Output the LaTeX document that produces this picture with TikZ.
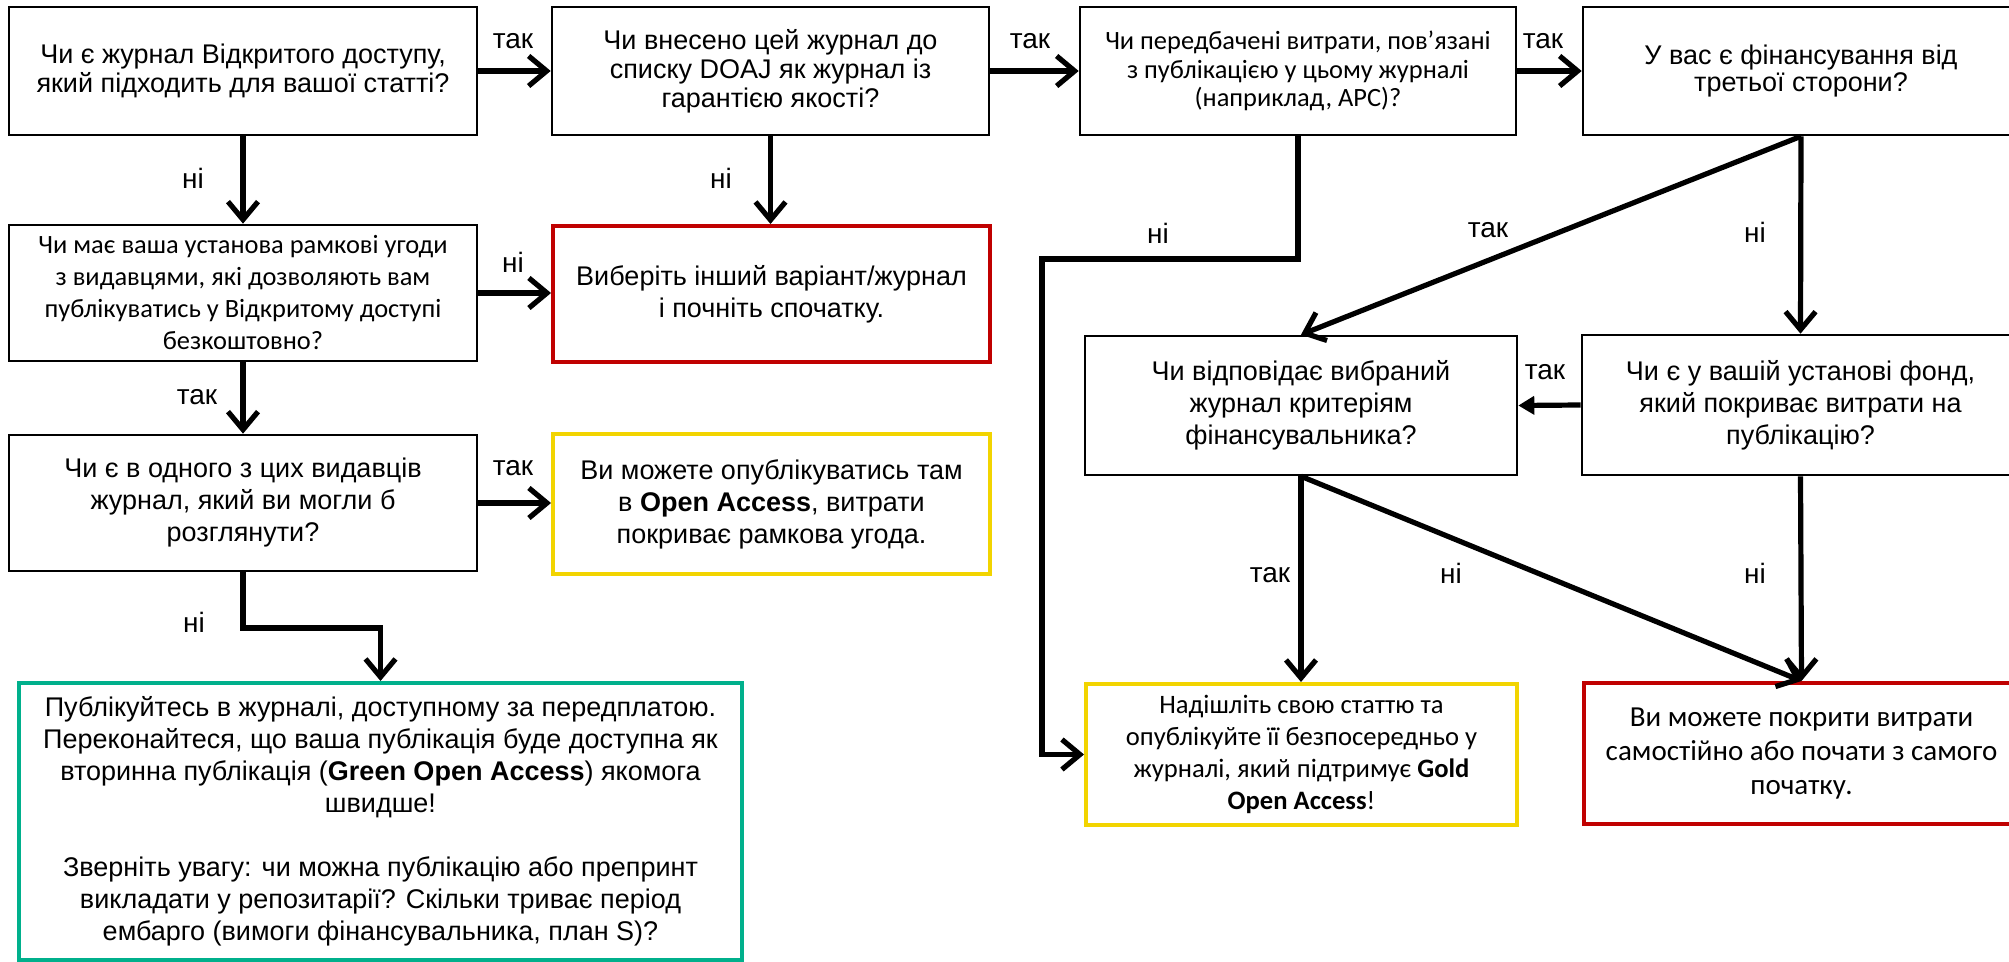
\documentclass[tikz,border=0pt]{standalone}
\usepackage{fontspec}
\setmainfont{Liberation Sans}
\newfontfamily\calib{Carlito}
\usetikzlibrary{arrows.meta}
\definecolor{bred}{RGB}{192,0,0}
\definecolor{byel}{RGB}{242,212,0}
\definecolor{bgreen}{RGB}{0,176,140}
\begin{document}
\begin{tikzpicture}[x=0.5pt,y=-0.5pt,
  box/.style={draw=black,line width=1.3pt,inner sep=0pt,align=center},
  rbox/.style={draw=bred,line width=2pt,inner sep=0pt,align=center},
  ybox/.style={draw=byel,line width=2pt,inner sep=0pt,align=center},
  gbox/.style={draw=bgreen,line width=2pt,inner sep=0pt,align=center},
  arr/.style={line width=2.6pt,-{Straight Barb[length=9pt,width=15pt]}},
  farr/.style={line width=2.6pt,-{Triangle[length=8pt,width=9pt]}},
  lab/.style={inner sep=0pt,font=\fontsize{14}{14}\selectfont},
  fA/.style={font=\fontsize{13.5}{14.5}\selectfont},
  fAf/.style={font=\fontsize{13.5}{13.6}\selectfont},
  fB/.style={font=\fontsize{13.5}{16}\selectfont},
  fC/.style={font=\calib\fontsize{13.2}{14.3}\selectfont},
  fD/.style={font=\calib\fontsize{13.2}{16}\selectfont},
  fE/.style={font=\calib\fontsize{13.3}{16}\selectfont},
  fF/.style={font=\calib\fontsize{14.5}{17}\selectfont}]
\useasboundingbox (0,0) rectangle (2009,962);
\clip (0,0) rectangle (2009,962);

% row 1
\node[box,fA,minimum width=234pt,minimum height=64pt] (b1) at (243,71)
  {Чи є журнал Відкритого доступу,\\який підходить для вашої статті?};
\node[box,fA,minimum width=218.5pt,minimum height=64pt] (b2) at (770.5,71)
  {Чи внесено цей журнал до\\списку DOAJ як журнал із\\гарантією якості?};
\node[box,fC,minimum width=218pt,minimum height=64pt] (b3) at (1298,71)
  {Чи передбачені витрати, пов’язані\\з публікацією у цьому журналі\\(наприклад, APC)?};
\node[box,fAf,minimum width=218pt,minimum height=64pt] (b4) at (1801,71)
  {У вас є фінансування від\\третьої сторони?};

% left column
\node[box,fD,minimum width=234pt,minimum height=68pt] (b5) at (243,293)
  {Чи має ваша установа рамкові угоди\\з видавцями, які дозволяють вам\\публікуватись у Відкритому доступі\\безкоштовно?};
\node[rbox,fB,minimum width=218.5pt,minimum height=68pt] (r1) at (771.5,294)
  {Виберіть інший варіант/журнал\\і почніть спочатку.};
\node[box,fB,minimum width=234pt,minimum height=68pt] (b6) at (243,503)
  {Чи є в одного з цих видавців\\журнал, який ви могли б\\розглянути?};
\node[ybox,fB,minimum width=218.5pt,minimum height=70pt] (y1) at (771.5,504)
  {Ви можете опублікуватись там\\в \textbf{Open Access}, витрати\\покриває рамкова угода.};
\node[gbox,fB,minimum width=361.5pt,minimum height=138.5pt] (g) at (380.5,821.5)
  {Публікуйтесь в журналі, доступному за передплатою.\\
   Переконайтеся, що ваша публікація буде доступна як\\
   вторинна публікація (\textbf{Green Open Access}) якомога\\
   швидше!\\[16pt]
   Зверніть увагу: чи можна публікацію або препринт\\
   викладати у репозитарії? Скільки триває період\\
   ембарго (вимоги фінансувальника, план S)?};

% right part
\node[box,fB,minimum width=216pt,minimum height=69.5pt] (b7) at (1301,405.5)
  {Чи відповідає вибраний\\журнал критеріям\\фінансувальника?};
\node[box,fB,minimum width=218.5pt,minimum height=70pt] (b8) at (1800.5,405)
  {Чи є у вашій установі фонд,\\який покриває витрати на\\публікацію?};
\node[ybox,fE,minimum width=215.5pt,minimum height=70.5pt] (y2) at (1301.5,754.5)
  {Надішліть свою статтю та\\опублікуйте її безпосередньо у\\журналі, який підтримує \textbf{Gold}\\\textbf{Open Access}!};
\node[rbox,fF,minimum width=217.5pt,minimum height=70.5pt] (r2) at (1801.5,753.5)
  {Ви можете покрити витрати\\самостійно або почати з самого\\початку.};

% connectors
\draw[arr] (b1.east) -- (b2.west);
\draw[arr] (b2.east) -- (b3.west);
\draw[arr] (b3.east) -- (b4.west);
\draw[arr] (b1.south) -- (b5.north);
\draw[arr] (b2.south) -- (b2.south |- r1.north);
\draw[arr] (b5.east) -- (b5.east -| r1.west);
\draw[arr] (b5.south) -- (b6.north);
\draw[arr] (b6.east) -- (b6.east -| y1.west);
\coordinate (k0) at (243,628);
\draw[arr] (b6.south) -- (k0) -| (g.north);
\coordinate (k1) at (1042,259);
\draw[arr] (b3.south) |- (k1) |- (y2.west);
\draw[arr] (b4.south) -- (b7.north);
\draw[arr] (b4.south) -- (b8.north);
\draw[farr] (b8.west) -- (b7.east);
\draw[arr] (b7.south) -- (b7.south |- y2.north);
\draw[arr] (b7.south) -- (r2.north);
\draw[arr] (b8.south) -- (r2.north);

% labels
\node[lab] (l1) at (513,41) {так};
\node[lab] (l2) at (1030,41) {так};
\node[lab] (l3) at (1543,41) {так};
\node[lab] (l4) at (193,178) {ні};
\node[lab] (l5) at (721,178) {ні};
\node[lab] (l6) at (513,262) {ні};
\node[lab] (l7) at (197,397) {так};
\node[lab] (l8) at (513,468) {так};
\node[lab] (l9) at (194,622) {ні};
\node[lab] (l10) at (1158,233) {ні};
\node[lab] (l11) at (1488,230) {так};
\node[lab] (l12) at (1755,232) {ні};
\node[lab] (l13) at (1545,372) {так};
\node[lab] (l14) at (1270,575) {так};
\node[lab] (l15) at (1451,573) {ні};
\node[lab] (l16) at (1755,573) {ні};
\end{tikzpicture}
\end{document}
